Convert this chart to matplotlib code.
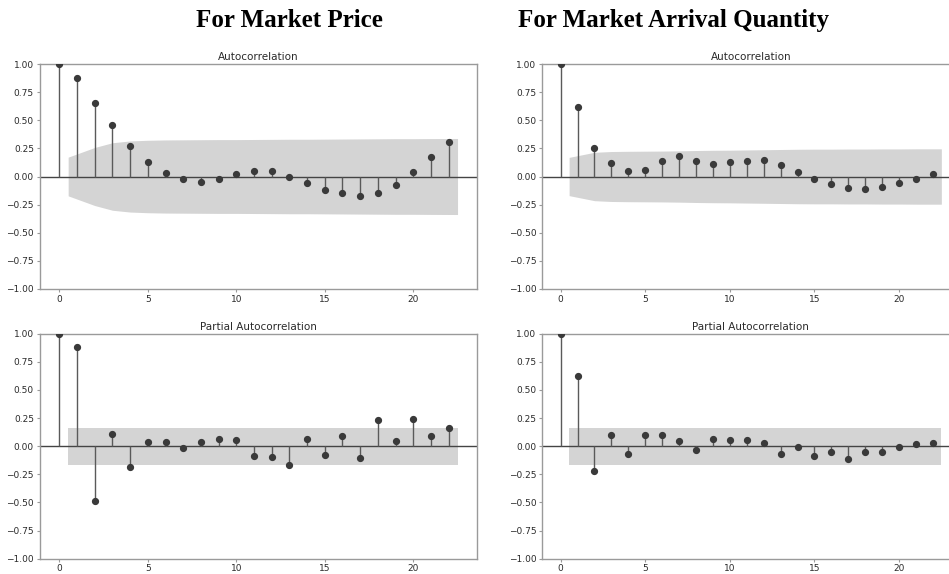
import numpy as np
import matplotlib
matplotlib.use("Agg")
import matplotlib.pyplot as plt

lags = list(range(23))

acf_price = [1.0, 0.878, 0.656, 0.457, 0.27, 0.125, 0.03, -0.024, -0.045, -0.024,
             0.021, 0.053, 0.047, 0.0, -0.062, -0.116, -0.151, -0.172, -0.148, -0.077,
             0.036, 0.175, 0.309]
pacf_price = [1.0, 0.884, -0.491, 0.110, -0.182, 0.036, 0.036, -0.012, 0.036, 0.0625,
              0.051, -0.089, -0.095, -0.167, 0.065, -0.080, 0.089, -0.101, 0.235, 0.045,
              0.241, 0.095, 0.164]
acf_qty = [1.0, 0.617, 0.252, 0.122, 0.047, 0.062, 0.139, 0.181, 0.136, 0.110,
           0.125, 0.139, 0.148, 0.098, 0.039, -0.024, -0.065, -0.098, -0.107, -0.095,
           -0.062, -0.018, 0.024]
pacf_qty = [1.0, 0.622, -0.217, 0.104, -0.065, 0.104, 0.104, 0.045, -0.036, 0.0625,
            0.057, 0.057, 0.030, -0.071, -0.009, -0.083, -0.048, -0.113, -0.051, -0.051,
            -0.009, 0.024, 0.030]

# confidence band half-widths at lags 1..22
band_acf_price = [0.172, 0.258, 0.300, 0.316, 0.322, 0.325, 0.326, 0.327, 0.328, 0.328,
                  0.329, 0.330, 0.331, 0.331, 0.332, 0.333, 0.334, 0.335, 0.336, 0.336,
                  0.337, 0.338]
band_acf_qty = [0.170, 0.215, 0.222, 0.224, 0.225, 0.226, 0.228, 0.231, 0.233, 0.234,
                0.236, 0.238, 0.240, 0.242, 0.243, 0.243, 0.244, 0.244, 0.245, 0.245,
                0.246, 0.246]
band_pacf = [0.165] * 22

yticks = [-1.0, -0.75, -0.5, -0.25, 0.0, 0.25, 0.5, 0.75, 1.0]
xticks = [0, 5, 10, 15, 20]

STEM = "#5a5a5a"
DOT = "#3a3a3a"
BAND = "#d4d4d4"
SPINE = "#9a9a9a"
TXT = "#2a2a2a"

fig = plt.figure(figsize=(9.49, 5.74), dpi=100)

def draw(rect, vals, band, title):
    ax = fig.add_axes(rect)
    x = np.array(lags, dtype=float)
    v = np.array(vals)
    bx = x[1:].copy()
    bx[0] -= 0.5
    bx[-1] += 0.5
    b = np.array(band)
    ax.fill_between(bx, -b, b, color=BAND, lw=0, zorder=1)
    ax.axhline(0, color="#444444", lw=1.0, zorder=2)
    ax.vlines(x, 0, v, color=STEM, lw=1.0, zorder=3)
    ax.plot(x, v, "o", color=DOT, ms=4.2, zorder=4)
    ax.set_xlim(-1.12, 23.6)
    ax.set_ylim(-1.0, 1.0)
    ax.set_yticks(yticks)
    ax.set_yticklabels([f"{t:.2f}".replace("-", "\u2212") for t in yticks])
    ax.set_xticks(xticks)
    ax.tick_params(labelsize=6.5, colors=SPINE, labelcolor=TXT, length=2.5, width=0.8, pad=1.5)
    for s in ax.spines.values():
        s.set_color(SPINE)
        s.set_linewidth(1.0)
    ax.set_title(title, fontsize=7.5, color=TXT, pad=3)
    return ax

W1 = (477 - 39.5) / 949
H = (289 - 64) / 574
W2 = 24.72 * 16.92 / 949

draw([39.5 / 949, 1 - 289 / 574, W1, H], acf_price, band_acf_price, "Autocorrelation")
draw([541.7 / 949, 1 - 289 / 574, W2, H], acf_qty, band_acf_qty, "Autocorrelation")
draw([39.5 / 949, 1 - 558.7 / 574, W1, H], pacf_price, band_pacf, "Partial Autocorrelation")
draw([541.7 / 949, 1 - 558.7 / 574, W2, H], pacf_qty, band_pacf, "Partial Autocorrelation")

fig.text(289 / 949, 1 - 26.7 / 574, "For Market Price", ha="center", va="baseline",
         fontsize=18, fontweight="bold", family="Liberation Serif", color="black")
fig.text(518 / 949, 1 - 26.7 / 574, "For Market Arrival Quantity", ha="left", va="baseline",
         fontsize=18, fontweight="bold", family="Liberation Serif", color="black")

fig.savefig("out.png", dpi=100)
